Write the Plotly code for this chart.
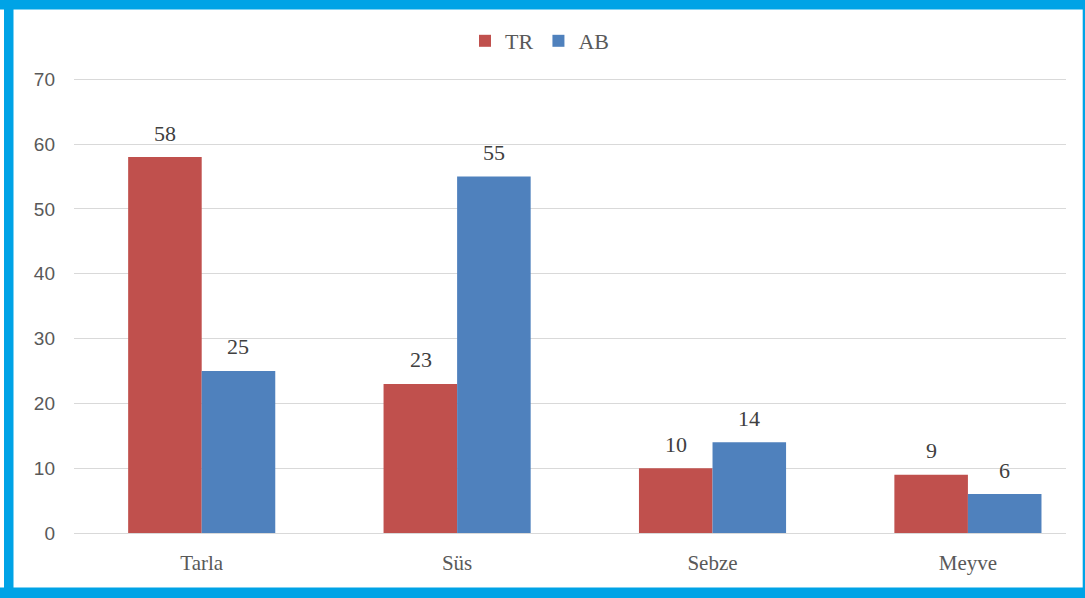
import plotly.graph_objects as go

categories = ["Tarla", "Süs", "Sebze", "Meyve"]
tr_values = [58, 23, 10, 9]
ab_values = [25, 55, 14, 6]
series_names = ["TR", "AB"]
y_ticks = [0, 10, 20, 30, 40, 50, 60, 70]

W, H = 1085, 598
YMAX = 70.5
ML, MR, MB = 74, 19, 65
MT = round(533 - 454 * YMAX / 70)
PW, PH = W - ML - MR, H - MT - MB

def px_x(p):
    return (p - ML) / PW

def px_y(p):
    return (H - MB - p) / PH

RED = "#C0504D"
BLUE = "#4F81BD"
BORDER = "#00A3E6"
SERIF = "Liberation Serif"
GRAY = "#595959"
GRID = "#D9D9D9"

fig = go.Figure()
fig.add_trace(go.Bar(name=series_names[0], x=categories, y=tr_values, marker_color=RED,
                     marker_line_width=0))
fig.add_trace(go.Bar(name=series_names[1], x=categories, y=ab_values, marker_color=BLUE,
                     marker_line_width=0))

annotations = []
for vals, shift in ((tr_values, -36.5), (ab_values, 36.5)):
    for c, v in zip(categories, vals):
        annotations.append(dict(x=c, y=v, xref="x", yref="y", text=str(v), showarrow=False,
                                xshift=shift, yshift=24, yanchor="middle",
                                font=dict(family=SERIF, size=22, color="#404040")))

shapes = []
for x0, x1, y0, y1 in [(0, W, 0, 9.5), (4, 13.5, 0, H), (0, W, 587.5, H), (1082.7, W, 0, H)]:
    shapes.append(dict(type="rect", xref="paper", yref="paper",
                       x0=px_x(x0), x1=px_x(x1), y0=px_y(y1), y1=px_y(y0),
                       fillcolor=BORDER, line_width=0, layer="above"))

fig.update_layout(
    width=W, height=H,
    margin=dict(l=ML, r=MR, t=MT, b=MB),
    paper_bgcolor="white", plot_bgcolor="white",
    barmode="group", bargap=0.424, bargroupgap=0,
    showlegend=True,
    legend=dict(orientation="h", x=px_x(540), xanchor="center", y=px_y(41), yanchor="middle",
                font=dict(family=SERIF, size=22, color=GRAY), itemwidth=30,
                traceorder="normal"),
    xaxis=dict(range=[-0.5, 3.384], showgrid=False, showline=False, zeroline=False,
               tickfont=dict(family=SERIF, size=21, color=GRAY), ticks="",
               ticklabelstandoff=15),
    yaxis=dict(range=[0, YMAX], tickvals=y_ticks, showgrid=True, gridcolor=GRID,
               gridwidth=1.3, zeroline=True, zerolinecolor=GRID, zerolinewidth=1.3,
               showline=False,
               tickfont=dict(family="Liberation Sans", size=19, color=GRAY),
               ticklabelstandoff=18),
    annotations=annotations,
    shapes=shapes,
)

fig.write_html("out.html", config={"displayModeBar": False},
               post_script="document.body.style.margin='0';document.body.style.overflow='hidden';")
